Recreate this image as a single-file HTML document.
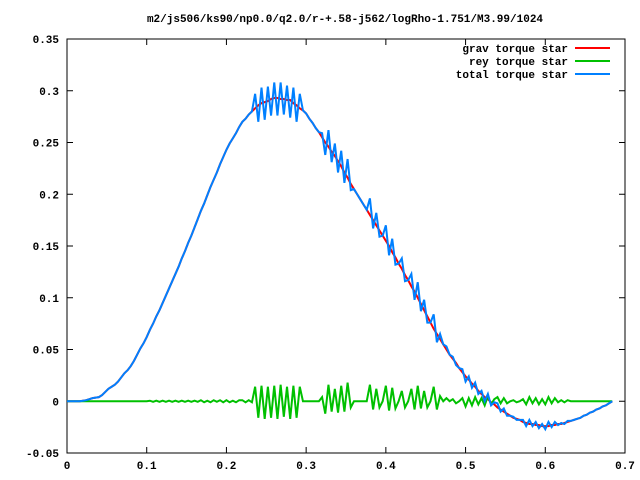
<!DOCTYPE html>
<html><head><meta charset="utf-8"><style>
body{margin:0;background:#fff}
svg{display:block}
text{font-family:"Liberation Mono",monospace;font-size:11px;font-weight:bold;fill:#000}
</style></head><body>
<svg id="chart" width="640" height="480">
<text x="345" y="22" text-anchor="middle">m2/js506/ks90/np0.0/q2.0/r-+.58-j562/logRho-1.751/M3.99/1024</text>
<rect x="67" y="39" width="558" height="414" fill="none" stroke="#000" stroke-width="1"/>
<g id="axes"></g>
<g id="series"></g>
<g>
<text x="568" y="52" text-anchor="end">grav torque star</text>
<line x1="575" y1="48" x2="610" y2="48" stroke="#ff0000" stroke-width="2"/>
<text x="568" y="65" text-anchor="end">rey torque star</text>
<line x1="575" y1="61" x2="610" y2="61" stroke="#00c000" stroke-width="2"/>
<text x="568" y="78" text-anchor="end">total torque star</text>
<line x1="575" y1="74" x2="610" y2="74" stroke="#0080ff" stroke-width="2"/>
</g>
</svg>
<script>
const xStep = 0.004;
const xTicks = [0,0.1,0.2,0.3,0.4,0.5,0.6,0.7];
const xTickLabels = ["0","0.1","0.2","0.3","0.4","0.5","0.6","0.7"];
const yTicks = [-0.05,0,0.05,0.1,0.15,0.2,0.25,0.3,0.35];
const yTickLabels = ["-0.05","0","0.05","0.1","0.15","0.2","0.25","0.3","0.35"];
const gravValues = [
0,0,0,0,0, .0005,.001,.002,.003,.0035, .004,.006,.009,.012,.014, .016,.019,.023,.027,.03,
.034,.039,.045,.051,.056, .062,.069,.075,.082,.088, .095,.102,.109,.116,.123, .13,.138,.145,.153,.16,
.168,.176,.184,.191,.199, .207,.214,.221,.229,.236, .243,.249,.254,.259,.265, .27,.273,.277,.28,.283,
.286,.288,.289,.29,.292, .293,.293,.292,.292,.291, .291,.288,.286,.283,.281, .278,.273,.269,.264,.26,
.255,.25,.246,.241,.237, .232,.227,.221,.216,.21, .205,.2,.195,.19,.185, .18,.175,.17,.165,.16,
.155,.15,.144,.139,.133, .128,.122,.117,.111,.106, .1,.094,.088,.082,.076, .07,.065,.06,.055,.05,
.045,.041,.037,.032,.028, .024,.021,.017,.014,.01, .007,.004,.002,-.001,-.003, -.006,-.008,-.01,-.012,-.014,
-.016,-.017,-.018,-.02,-.021, -.022,-.022,-.023,-.023,-.024, -.024,-.024,-.023,-.023,-.022, -.022,-.021,-.02,-.019,-.018,
-.017,-.016,-.014,-.013,-.011, -.01,-.008,-.007,-.005,-.004, -.002,0];
const reyValues = [
0,0,0,0,0, 0,0,0,0,0, 0,0,0,0,0, 0,0,0,0,0, 0,0,0,0,0,
0,.0005,-.0005,.0005,-.0005, .0005,-.0005,.0005,-.0005,.0005, -.0005,.0005,-.0005,.0005,-.0005,
.0005,-.0005,.001,-.001,.0005, -.001,.001,-.0005,.001,-.001, .001,-.001,.0005,-.001,.001,
.001,-.001,.001,-.001,.014, -.016,.015,-.017,.014,-.016, .015,-.017,.016,-.015,.014, -.017,.015,-.016,.014,0,
0,0,0,0,0, .004,-.012,.016,-.01,.012, -.011,.015,-.01,.018,-.006, 0,0,0,0,0,
.016,-.008,.012,-.006,0, .015,-.009,.013,-.007,0, .01,-.006,0,.012,-.008, .015,-.007,.01,-.006,0,
.014,-.008,.005,0,.003, 0,.002,-.002,0,.003, -.005,.003,-.004,.004,-.003, .003,-.004,.005,-.003,.002,
.004,-.002,.003,-.002,0, .001,-.001,0,.002,-.003, .004,-.002,.003,-.003,.002, -.003,.004,-.002,.003,-.001,
.001,-.001,.001,0,0, 0,0,0,0,0, 0,0,0,0,0, 0,0];
const totalValues = [
0,0,0,0,0, .0005,.001,.002,.003,.0035, .004,.006,.009,.012,.014, .016,.019,.023,.027,.03,
.034,.039,.045,.051,.056, .062,.069,.075,.082,.088, .095,.102,.109,.116,.123, .13,.138,.145,.153,.16,
.168,.176,.184,.191,.199, .207,.214,.221,.229,.236, .243,.249,.254,.259,.265, .27,.273,.277,.28,.297,
.27,.303,.272,.304,.276, .308,.276,.308,.277,.305, .274,.303,.27,.297,.281, .278,.273,.269,.264,.26,
.259,.238,.262,.231,.249, .221,.242,.211,.234,.204, .205,.2,.195,.19,.185, .196,.167,.182,.159,.16,
.17,.141,.157,.132,.133, .138,.116,.117,.123,.098, .115,.087,.098,.076,.076, .084,.057,.065,.055,.053,
.045,.043,.035,.032,.031, .019,.024,.013,.018,.007, .01,0,.007,-.004,-.001, -.002,-.01,-.007,-.014,-.014,
-.015,-.018,-.018,-.018,-.024, -.018,-.024,-.02,-.026,-.022, -.027,-.02,-.025,-.02,-.023, -.021,-.022,-.019,-.019,-.018,
-.017,-.016,-.014,-.013,-.011, -.01,-.008,-.007,-.005,-.004, -.002,0];

const NS = "http://www.w3.org/2000/svg";
const L = 67, R = 625, T = 39, B = 453;
const xMin = 0, xMax = 0.7, yMin = -0.05, yMax = 0.35;
function sx(v){ return L + (v - xMin) / (xMax - xMin) * (R - L); }
function sy(v){ return B - (v - yMin) / (yMax - yMin) * (B - T); }

const axes = document.getElementById('axes');
xTicks.forEach((t, i) => {
  const x = sx(t);
  [[B, B - 6], [T, T + 6]].forEach(([a, b]) => {
    const ln = document.createElementNS(NS, 'line');
    ln.setAttribute('x1', x); ln.setAttribute('x2', x);
    ln.setAttribute('y1', a); ln.setAttribute('y2', b);
    ln.setAttribute('stroke', '#000');
    
    
    axes.appendChild(ln);
  });
  const tx = document.createElementNS(NS, 'text');
  tx.setAttribute('x', x); tx.setAttribute('y', 469);
  tx.setAttribute('text-anchor', 'middle');
  tx.textContent = xTickLabels[i];
  
  
  axes.appendChild(tx);
});
yTicks.forEach((t, i) => {
  const y = sy(t);
  [[L, L + 6], [R, R - 6]].forEach(([a, b]) => {
    const ln = document.createElementNS(NS, 'line');
    ln.setAttribute('x1', a); ln.setAttribute('x2', b);
    ln.setAttribute('y1', y); ln.setAttribute('y2', y);
    ln.setAttribute('stroke', '#000');
    
    
    axes.appendChild(ln);
  });
  const tx = document.createElementNS(NS, 'text');
  tx.setAttribute('x', 59); tx.setAttribute('y', y + 4);
  tx.setAttribute('text-anchor', 'end');
  tx.textContent = yTickLabels[i];
  
  
  axes.appendChild(tx);
});

const series = document.getElementById('series');
function drawLine(vals, color, name){
  const pts = vals.map((v, i) => sx(i * xStep).toFixed(2) + ',' + sy(v).toFixed(2)).join(' ');
  const pl = document.createElementNS(NS, 'polyline');
  pl.setAttribute('points', pts);
  pl.setAttribute('fill', 'none');
  pl.setAttribute('stroke', color);
  pl.setAttribute('stroke-width', '2');
  
  
  series.appendChild(pl);
}
drawLine(gravValues, '#ff0000', 'grav-torque-line');
drawLine(reyValues, '#00c000', 'rey-torque-line');
drawLine(totalValues, '#0080ff', 'total-torque-line');
</script>
</body></html>
